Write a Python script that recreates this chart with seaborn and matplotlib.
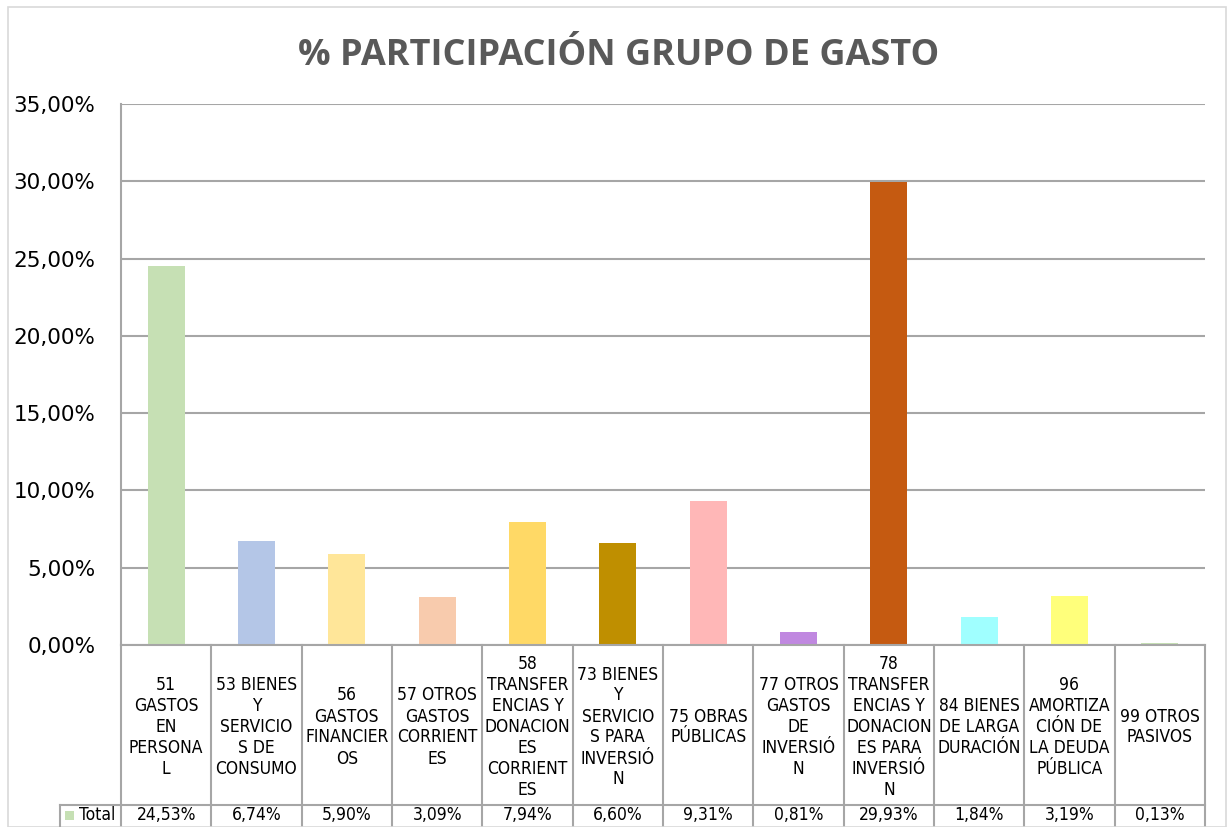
import seaborn as sns
import numpy as np
import pandas as pd
import matplotlib.pyplot as plt
import matplotlib.transforms as mtransforms
from matplotlib import font_manager
from matplotlib.patches import Rectangle
from matplotlib.ticker import FuncFormatter

# data
categories = [
    "51\nGASTOS\nEN\nPERSONA\nL",
    "53 BIENES\nY\nSERVICIO\nS DE\nCONSUMO",
    "56\nGASTOS\nFINANCIER\nOS",
    "57 OTROS\nGASTOS\nCORRIENT\nES",
    "58\nTRANSFER\nENCIAS Y\nDONACION\nES\nCORRIENT\nES",
    "73 BIENES\nY\nSERVICIO\nS PARA\nINVERSIÓ\nN",
    "75 OBRAS\nPÚBLICAS",
    "77 OTROS\nGASTOS\nDE\nINVERSIÓ\nN",
    "78\nTRANSFER\nENCIAS Y\nDONACION\nES PARA\nINVERSIÓ\nN",
    "84 BIENES\nDE LARGA\nDURACIÓN",
    "96\nAMORTIZA\nCIÓN DE\nLA DEUDA\nPÚBLICA",
    "99 OTROS\nPASIVOS",
]
values = [24.53, 6.74, 5.90, 3.09, 7.94, 6.60, 9.31, 0.81, 29.93, 1.84, 3.19, 0.13]
bar_colors = ["#C6E0B4", "#B4C6E7", "#FFE699", "#F8CBAD", "#FFD966", "#BF8F00",
              "#FFB7B7", "#C088E0", "#C55A11", "#A0FFFF", "#FFFF7B", "#C6E0B4"]
series_name = "Total"

# look for a narrow sans (like Arial Narrow) if there is one
narrow = None
for f in font_manager.fontManager.ttflist:
    if "Liberation Sans Narrow" in f.name:
        narrow = dict(family=f.name, size=13)
        break
if narrow is None:
    for f in font_manager.fontManager.ttflist:
        if f.name == "DejaVu Sans" and f.stretch == "condensed" and f.weight in (400, "normal"):
            narrow = dict(family="DejaVu Sans", stretch="condensed", size=12.5)
            break
if narrow is None:
    narrow = dict(family="Liberation Sans", size=11)
lab_size = narrow.pop("size")

W, H = 1228, 827
fig = plt.figure(figsize=(W / 100, H / 100), dpi=100)
fig.patch.set_facecolor("white")

# outer chart border
fig.add_artist(Rectangle((8 / W, 0), (1226 - 8) / W, 1 - 7 / H, transform=fig.transFigure,
                         fill=False, edgecolor="#D9D9D9", linewidth=1.2))

left, right, bottom, top = 121, 1205, 645, 104
ax = fig.add_axes([left / W, 1 - bottom / H, (right - left) / W, (bottom - top) / H])

df = pd.DataFrame({"cat": categories, "val": values})
sns.barplot(data=df, x="cat", y="val", hue="cat", palette=bar_colors, legend=False,
            width=0.41, saturation=1, ax=ax)

ax.set_xlim(-0.5, len(categories) - 0.5)
ax.set_ylim(0, 35)
ax.set_yticks(np.arange(0, 36, 5))
ax.yaxis.set_major_formatter(FuncFormatter(lambda v, p: f"{v:.2f}%".replace(".", ",")))
ax.tick_params(axis="y", length=0, pad=18.5, labelsize=15.5, labelcolor="#000000")
for lbl in ax.get_yticklabels():
    lbl.set_fontfamily("DejaVu Sans")
ax.set_xticks([])
ax.set_xlabel("")
ax.set_ylabel("")
ax.grid(axis="y", color="#A6A6A6", linewidth=1.5)
ax.set_axisbelow(True)
for s in ["top", "right"]:
    ax.spines[s].set_visible(False)
ax.spines["left"].set_color("#A6A6A6")
ax.spines["left"].set_linewidth(1.5)
ax.spines["bottom"].set_color("#A6A6A6")
ax.spines["bottom"].set_linewidth(1.5)

fig.text(619 / W, 1 - 56 / H, "% PARTICIPACIÓN GRUPO DE GASTO", ha="center", va="center",
         fontsize=26, fontweight="bold", color="#595959", family=["Open Sans", "DejaVu Sans"])

# data table under the axis
tr = mtransforms.blended_transform_factory(ax.transData, fig.transFigure)
line_kw = dict(color="#A6A6A6", linewidth=1.5, clip_on=False)
row_y = 1 - 805 / H
n = len(categories)
for i in range(n + 1):
    ax.plot([i - 0.5, i - 0.5], [1 - bottom / H, 0], transform=tr, **line_kw)
fig.add_artist(plt.Line2D([60 / W, right / W], [row_y, row_y], transform=fig.transFigure,
                          color="#A6A6A6", linewidth=1.5))
fig.add_artist(plt.Line2D([60 / W, 60 / W], [row_y, 0], transform=fig.transFigure,
                          color="#A6A6A6", linewidth=1.5))

# one text per wrapped line, 21 px apart, block centred in the cell
pitch = 21
val_y = 815
for i, (c, v) in enumerate(zip(categories, values)):
    lines = c.split("\n")
    k0 = (len(lines) - 1) / 2
    for k, line in enumerate(lines):
        y = 725 + (k - k0) * pitch
        ax.text(i, 1 - y / H, line, transform=tr, ha="center", va="center_baseline",
                fontsize=lab_size, color="#000000", **narrow)
    ax.text(i, 1 - val_y / H, f"{v:.2f}%".replace(".", ","), transform=tr, ha="center",
            va="center", fontsize=lab_size, color="#000000", **narrow)

fig.add_artist(Rectangle((65 / W, 1 - 820 / H), 9 / W, 9 / H, transform=fig.transFigure,
                         facecolor=bar_colors[0], edgecolor="none"))
fig.text(79 / W, 1 - val_y / H, series_name, ha="left", va="center", fontsize=lab_size,
         color="#000000", **narrow)

fig.savefig("out.png", dpi=100)
